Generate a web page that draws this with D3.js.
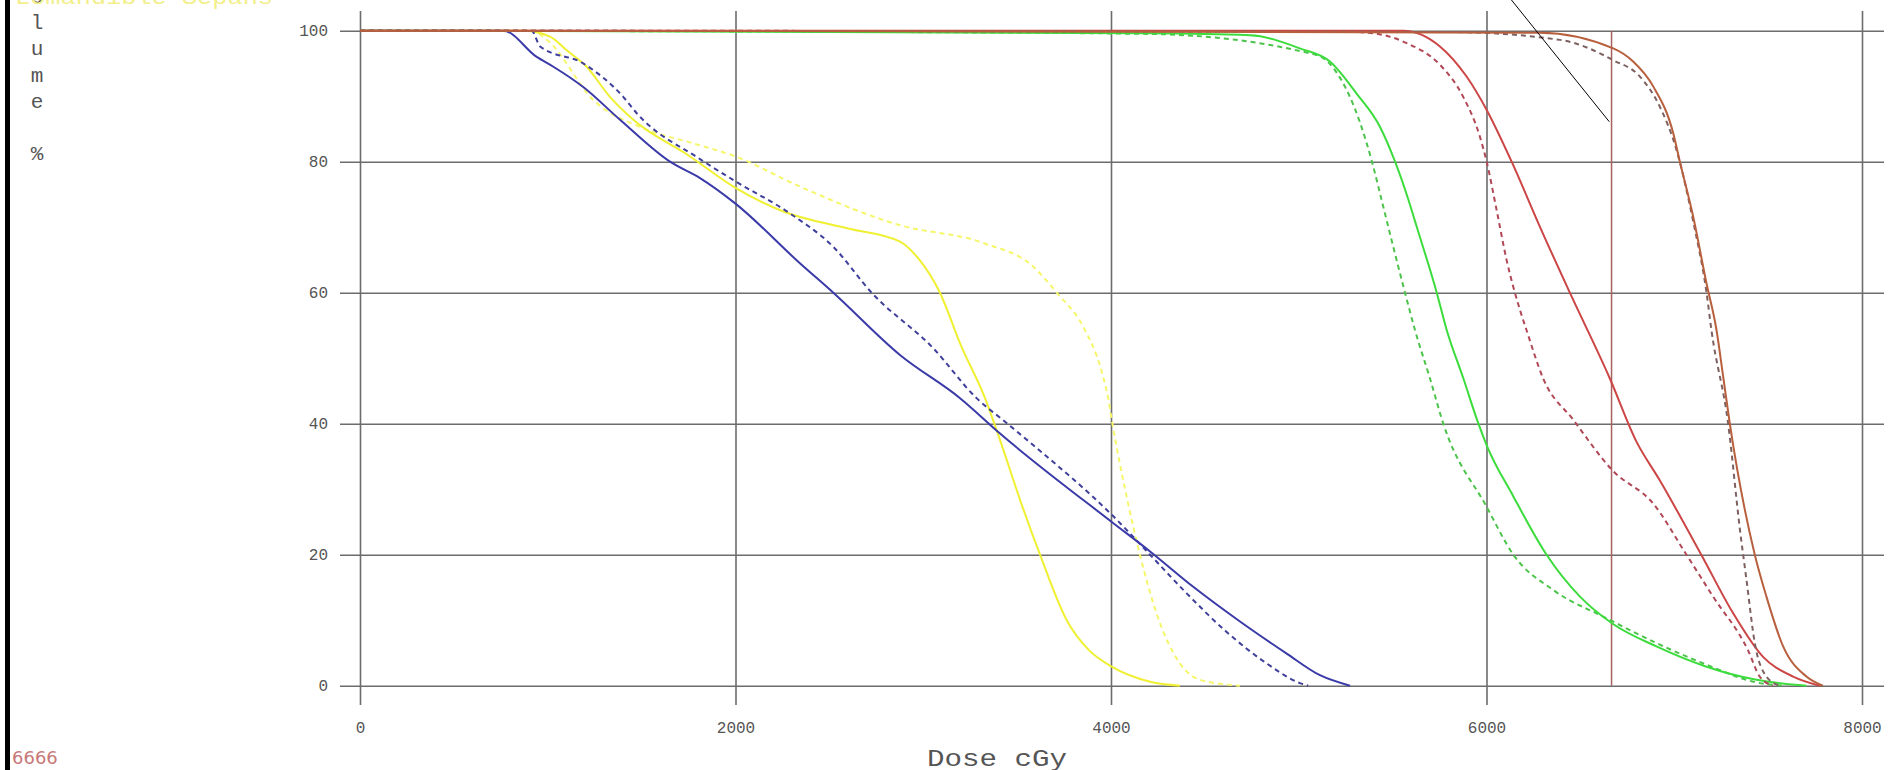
<!DOCTYPE html>
<html>
<head>
<meta charset="utf-8">
<script src="https://cdn.jsdelivr.net/npm/d3@7"></script>
<style>
  html, body { margin: 0; padding: 0; background: #ffffff; }
  svg { display: block; }
</style>
</head>
<body>
<svg id="chart" width="1895" height="770"></svg>
<script>
// ---------- data (dose cGy, volume %) ----------
const xTicks = [0, 2000, 4000, 6000, 8000];
const yTicks = [0, 20, 40, 60, 80, 100];
const markerDose = 6666;
const markerLabel = "6666";
const xTitle = "Dose cGy";
const yTitleLetters = ["V", "o", "l", "u", "m", "e", "", "%"];
const topLabel = "Lomandible Sepans";

const yellowSolid = [[0,100],[870,100],[1012,99.1],[1101,97],[1207,94.5],[1331,89.9],[1456,86.4],[1758,80.8],[2000,76],[2255,72.4],[2600,69.8],[2876,67.8],[2980,65],[3089,60],[3200,52],[3329,43.9],[3409,37.5],[3520,28],[3622,20],[3764,10],[3880,5.5],[4004,2.9],[4208,0.6],[4367,0]];
const yellowDashed = [[0,100],[914,100],[1000,98.5],[1243,89.4],[1509,85.1],[1775,82.8],[2000,80.8],[2343,76.2],[2876,70.3],[3318,67.6],[3585,64],[3711,60],[3852,54.8],[3950,48],[3985,43.9],[4004,40.6],[4083,28.9],[4154,20],[4243,11],[4367,3.4],[4474,0.9],[4687,0]];
const blueSolid = [[0,100],[763,100],[941,96],[1030,94.5],[1189,91.4],[1385,86.4],[1651,80],[1811,77.5],[2000,73.6],[2343,64.5],[2521,60],[2876,50.5],[3196,43.9],[3409,38.5],[4004,25],[4208,20.5],[4438,15.1],[4687,9.8],[4936,4.9],[5113,1.6],[5273,0]];
const blueDashed = [[0,100],[914,100],[959,97.6],[1189,95],[1402,89.9],[1474,87.4],[1811,80.4],[2000,77],[2290,72.1],[2521,67],[2725,60],[3054,51.5],[3284,43.9],[3436,40.3],[3587,36.7],[4004,26.1],[4208,20],[4403,14.1],[4616,8.2],[4829,3.4],[5006,0.4],[5050,0]];
const greenSolid = [[0,100],[4208,99.6],[4740,99.3],[5006,97.3],[5166,95.3],[5308,90.4],[5433,85.3],[5513,80],[5584,74.2],[5628,70.1],[5735,60],[5788,54.3],[5877,46.9],[5957,40],[6001,36.7],[6143,28.9],[6320,20],[6498,13.6],[6670,9.5],[6905,6],[7172,2.9],[7438,0.9],[7704,0]];
const greenDashed = [[0,100],[2800,99.8],[4208,99.5],[5095,96.3],[5220,92.8],[5326,86],[5390,80],[5441,74.2],[5486,69],[5566,60],[5619,54.3],[5699,46.9],[5770,40],[6001,27.3],[6143,20],[6356,14.6],[6640,10.3],[6906,6.5],[7172,3.2],[7438,0.5],[7580,0]];
const redSolid = [[0,100],[5557,100],[5752,97.6],[5894,93],[6001,87.9],[6134,80],[6284,70.1],[6444,60],[6657,46.9],[6798,37.3],[6922,31.4],[7144,20],[7313,11.1],[7473,4.4],[7633,1.4],[7775,0]];
const redDashed = [[0,100],[5200,99.9],[5397,99.6],[5575,98.1],[5752,94.8],[5876,89.9],[5965,83.8],[6001,80],[6054,72.6],[6107,65],[6178,57.4],[6213,54.3],[6302,46.9],[6462,40.6],[6670,32.9],[6888,27.8],[7065,20],[7207,13.6],[7393,5.4],[7455,1.4],[7526,0]];
const brownSolid = [[0,100],[6284,99.7],[6675,97.3],[6781,95.3],[6888,91.5],[6995,84.3],[7030,80],[7101,71.6],[7172,61.4],[7225,54.3],[7262,46.9],[7296,40],[7429,20],[7491,13.6],[7580,6],[7704,1.4],[7792,0]];
const brownDashed = [[0,100],[5800,99.8],[6391,98.6],[6675,95.5],[6817,93],[6923,88.4],[7012,81.8],[7100,71],[7172,60],[7198,54.3],[7287,40],[7350,23.8],[7385,16.1],[7429,6.5],[7491,1.4],[7562,0]];
const pointerLine = [[6113,105.4],[6654,86.1]];

// ---------- series table ----------
const series = [
  {data: yellowDashed, color: "#f6f66a", dash: "5,4"},
  {data: yellowSolid,  color: "#f0f032", dash: null},
  {data: blueDashed,   color: "#40409c", dash: "5,4"},
  {data: blueSolid,    color: "#3a3aa8", dash: null},
  {data: greenDashed,  color: "#4cc44c", dash: "5,4"},
  {data: greenSolid,   color: "#3cdc3c", dash: null},
  {data: redDashed,    color: "#b04856", dash: "5,4"},
  {data: redSolid,     color: "#cc4646", dash: null},
  {data: brownDashed,  color: "#7e6060", dash: "5,4"},
  {data: brownSolid,   color: "#b8603e", dash: null}
];

// ---------- layout ----------
const svg = d3.select("#chart");
const x = d3.scaleLinear().domain([0, 8000]).range([360, 1862]);
const y = d3.scaleLinear().domain([0, 100]).range([685.7, 30.7]);
const gridLeft = 340, gridRight = 1884, gridTop = 11, gridBottom = 705;
const gridColor = "#6c6c6c";
const mono = "'Liberation Mono', 'Courier New', monospace";

// left black bar
svg.append("rect").attr("x", 5).attr("y", 0).attr("width", 5).attr("height", 770).attr("fill", "#000");

// y axis (horizontal grid lines)
const yAxis = svg.append("g")
  .attr("transform", `translate(${gridLeft},0)`)
  .call(d3.axisLeft(y).tickValues(yTicks).tickSize(-(gridRight - gridLeft)).tickPadding(12).tickFormat(d3.format("d")));
yAxis.select(".domain").remove();
yAxis.selectAll("line").attr("stroke", gridColor).attr("stroke-width", 1.6);
yAxis.selectAll("text").attr("fill", "#555").style("font-family", mono).style("font-size", "16px");

// x axis (vertical grid lines)
const xAxis = svg.append("g")
  .attr("transform", `translate(0,${gridBottom})`)
  .call(d3.axisBottom(x).tickValues(xTicks).tickSize(-(gridBottom - gridTop)).tickPadding(17).tickFormat(d3.format("d")));
xAxis.select(".domain").remove();
xAxis.selectAll("line").attr("stroke", gridColor).attr("stroke-width", 1.6);
xAxis.selectAll("text").attr("fill", "#555").style("font-family", mono).style("font-size", "16px");

// marker vertical line
svg.append("line")
  .attr("x1", x(markerDose)).attr("x2", x(markerDose))
  .attr("y1", y(100)).attr("y2", y(0))
  .attr("stroke", "#a86060").attr("stroke-width", 1.5);

// curves
const line = d3.line().x(d => x(d[0])).y(d => y(d[1])).curve(d3.curveMonotoneX);
svg.append("g").selectAll("path").data(series).join("path")
  .attr("d", d => line(d.data))
  .attr("fill", "none")
  .attr("stroke", d => d.color)
  .attr("stroke-width", 2)
  .attr("stroke-dasharray", d => d.dash);

// pointer line
svg.append("line")
  .attr("x1", x(pointerLine[0][0])).attr("y1", y(pointerLine[0][1]))
  .attr("x2", x(pointerLine[1][0])).attr("y2", y(pointerLine[1][1]))
  .attr("stroke", "#000").attr("stroke-width", 1);

// y title stacked letters
svg.append("g").selectAll("text").data(yTitleLetters).join("text")
  .attr("x", 37).attr("y", (d, i) => -31 + i * 26.3)
  .attr("dy", "0.35em")
  .attr("text-anchor", "middle")
  .attr("fill", "#555")
  .style("font-family", mono).style("font-size", "21px")
  .text(d => d);

// top yellow label (clipped by page top)
svg.append("text")
  .attr("x", 15).attr("y", 4)
  .attr("fill", "#f2ef8a")
  .attr("textLength", 258).attr("lengthAdjust", "spacingAndGlyphs")
  .style("font-family", mono).style("font-size", "22px")
  .text(topLabel);

// x title
svg.append("text")
  .attr("x", 997).attr("y", 758).attr("dy", "0.35em")
  .attr("text-anchor", "middle")
  .attr("fill", "#555")
  .attr("textLength", 140).attr("lengthAdjust", "spacingAndGlyphs")
  .style("font-family", mono).style("font-size", "24px")
  .text(xTitle);

// marker value label
svg.append("text")
  .attr("x", 12).attr("y", 758).attr("dy", "0.35em")
  .attr("fill", "#c87878")
  .style("font-family", "'DejaVu Sans', sans-serif").style("font-size", "18px")
  .text(markerLabel);
</script>
</body>
</html>
